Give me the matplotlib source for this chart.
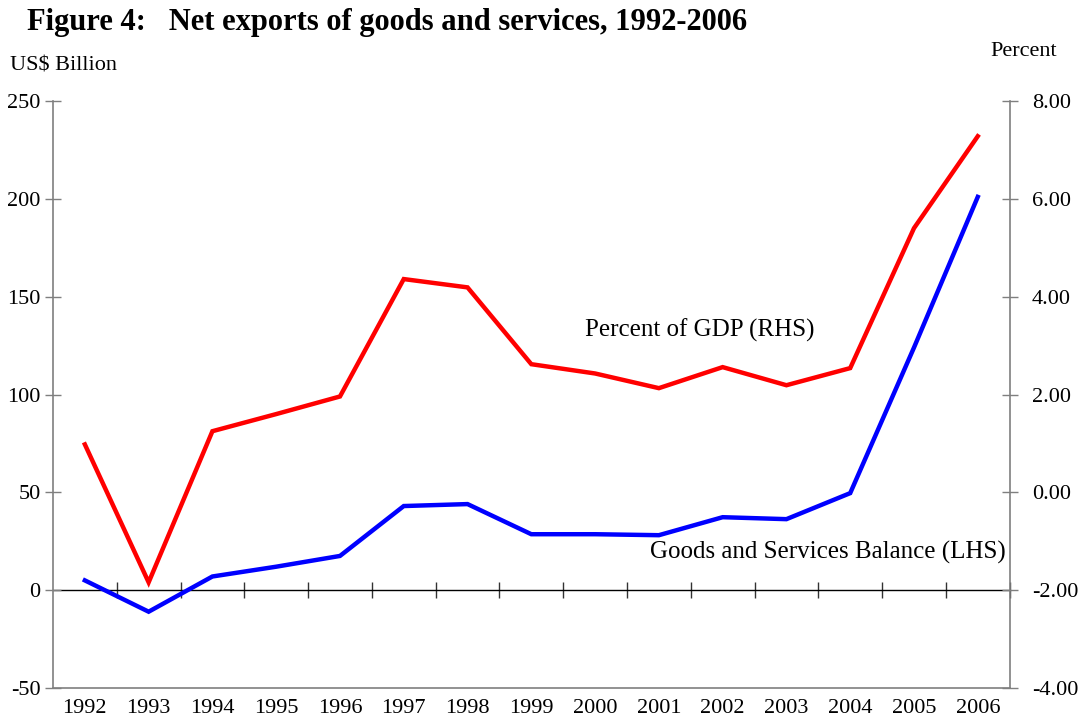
import matplotlib
matplotlib.use("Agg")
import matplotlib.pyplot as plt
import numpy as np

years = ["1992", "1993", "1994", "1995", "1996", "1997", "1998", "1999",
         "2000", "2001", "2002", "2003", "2004", "2005", "2006"]
# goods and services balance, US$ billion (LHS)
balance = [5, -11, 7, 12, 17.5, 43, 44, 28.6, 28.6, 28.1, 37.3, 36.3, 49.6, 124, 201]
# percent of GDP (RHS)
pct_gdp = [0.98, -1.84, 1.25, 1.60, 1.96, 4.36, 4.19, 2.62, 2.43, 2.13, 2.56, 2.19, 2.54, 5.40, 7.28]

left_ticks = [-50, 0, 50, 100, 150, 200, 250]
right_ticks = [-4, -2, 0, 2, 4, 6, 8]

plt.rcParams['font.family'] = ['Liberation Serif', 'DejaVu Serif']
plt.rcParams['axes.unicode_minus'] = False
grey = '#7f7f7f'
fs = 16

fig = plt.figure(figsize=(10.81, 7.19), dpi=100)
ax = fig.add_axes([0.049, 0.0431, 0.885, 0.8164])
x = np.arange(len(years))

ax.plot(x, balance, color='#0000ff', lw=3.2, solid_joinstyle='miter', zorder=3)
ax.set_xlim(-0.5, len(years) - 0.5)
ax.set_ylim(-50, 250)
ax.set_yticks(left_ticks)
ax.set_xticks(x)
ax.set_xticklabels(years)
ax.tick_params(axis='x', length=0, labelsize=fs, pad=8)
ax.tick_params(axis='y', direction='inout', length=12, width=1, color=grey,
               labelsize=fs, pad=3)
for s in ['top', 'right']:
    ax.spines[s].set_visible(False)
for s in ['left', 'bottom']:
    ax.spines[s].set_color(grey)
    ax.spines[s].set_linewidth(1.2)

# zero line with category separators
zx = ax.secondary_xaxis(0, transform=ax.transData)
zx.set_xticks(np.arange(len(years)) + 0.5)
zx.tick_params(axis='x', direction='inout', length=12, width=1, color='#333333',
               labelbottom=False, labeltop=False)
zx.spines['bottom'].set_color('black')
zx.spines['bottom'].set_linewidth(1)

ax2 = ax.twinx()
ax2.plot(x, pct_gdp, color='#ff0000', lw=3.2, solid_joinstyle='miter', zorder=3)
ax2.set_ylim(-4, 8)
ax2.set_yticks(right_ticks)
ax2.set_yticklabels(['%.2f' % v for v in right_ticks])
ax2.tick_params(axis='y', direction='inout', length=12, width=1, color=grey,
                labelsize=fs, pad=10)
for s in ['top', 'left', 'bottom']:
    ax2.spines[s].set_visible(False)
ax2.spines['right'].set_color(grey)
ax2.spines['right'].set_linewidth(1.2)

ax.text(7.84, 133, "Percent of GDP (RHS)", fontsize=18, va='center', ha='left')
ax.text(8.86, 19.4, "Goods and Services Balance (LHS)", fontsize=18, va='center', ha='left')

fig.text(0.025, 0.969, "Figure 4:   Net exports of goods and services, 1992-2006",
         fontsize=22, fontweight='bold', va='center', ha='left')
fig.text(0.009, 0.908, "US$ Billion", fontsize=fs, va='center', ha='left')
fig.text(0.978, 0.928, "Percent", fontsize=fs, va='center', ha='right')

fig.savefig("out.png", dpi=100)
